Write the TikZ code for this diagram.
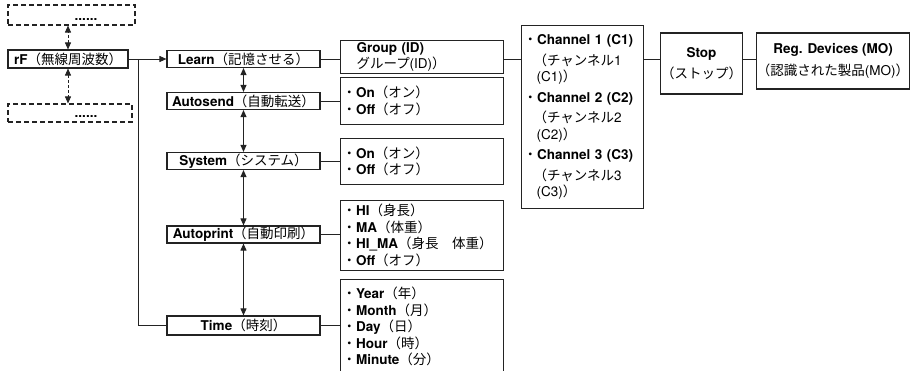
\documentclass[tikz,border=0pt]{standalone}
\usepackage{fontspec}
\setmainfont{TeX Gyre Heros}
\newfontfamily\jpfont[Scale=1.0]{Noto Sans CJK JP}
\newcommand{\JP}[1]{{\jpfont #1}}
\usetikzlibrary{arrows.meta}
\definecolor{lineGray}{RGB}{35,35,35}

\begin{document}
\begin{tikzpicture}[x=1pt,y=-1pt,>={Triangle[length=7pt,width=6pt]},
  every node/.style={font=\fontsize{13.5}{16.5}\selectfont,text=black},
  menubox/.style={draw=lineGray,line width=1.1pt,minimum width=153pt,minimum height=17pt,inner sep=0pt},
  optbox/.style={draw=lineGray,line width=1.1pt,anchor=north west,inner xsep=2pt,inner ysep=0pt,
    text width=159pt,minimum width=163pt,align=left},
  dashbox/.style={draw=lineGray,line width=1.1pt,dash pattern=on 5pt off 3pt,inner sep=0pt},
  link/.style={draw=lineGray,line width=0.9pt}]
  \useasboundingbox (0,0) rectangle (913,370);
  \clip (0,0) rectangle (913,370);

  \node[dashbox,minimum width=127pt,minimum height=20pt,text height=11pt,text depth=0pt] (dtop) at (71.5,15) {\hspace*{29pt}\textbf{......}};
  \node[menubox,minimum width=120pt,minimum height=18pt] (rf) at (68,59) {\textbf{rF}\JP{（無線周波数）}};
  \node[dashbox,minimum width=124pt,minimum height=18pt,text height=9pt,text depth=0pt] (dbot) at (70,113) {\hspace*{32pt}\textbf{......}};

  \node[menubox] (learn) at (243.5,59) {\textbf{Learn}\JP{（記憶させる）}};
  \node[menubox] (autosend) at (243.5,101) {\textbf{Autosend}\JP{（自動転送）}};
  \node[menubox] (system) at (243.5,161) {\textbf{System}\JP{（システム）}};
  \node[menubox] (autoprint) at (243.5,234.5) {\textbf{Autoprint}\JP{（自動印刷）}};
  \node[menubox,minimum height=19pt] (time) at (243.5,325.5) {\textbf{Time}\JP{（時刻）}};

  \node[optbox,minimum height=33pt,inner xsep=16pt,text width=131pt,font=\fontsize{13.5}{12.5}\selectfont] (group) at (340,40)
    {\textbf{Group (ID)}\\\JP{グループ}(ID)\JP{）}};
  \node[optbox,minimum height=47pt] (onoffA) at (340,77)
    {\JP{・}\textbf{On}\JP{（オン）}\\\JP{・}\textbf{Off}\JP{（オフ）}};
  \node[optbox,minimum height=46pt] (onoffB) at (340,138)
    {\JP{・}\textbf{On}\JP{（オン）}\\\JP{・}\textbf{Off}\JP{（オフ）}};
  \node[optbox,minimum height=70pt] (printopt) at (340,200)
    {\JP{・}\textbf{HI}\JP{（身長）}\\\JP{・}\textbf{MA}\JP{（体重）}\\
     \JP{・}\textbf{HI\_MA}\JP{（身長　体重）}\\\JP{・}\textbf{Off}\JP{（オフ）}};
  \node[optbox,minimum height=94pt] (timeopt) at (340,279)
    {\JP{・}\textbf{Year}\JP{（年）}\\\JP{・}\textbf{Month}\JP{（月）}\\\JP{・}\textbf{Day}\JP{（日）}\\
     \JP{・}\textbf{Hour}\JP{（時）}\\\JP{・}\textbf{Minute}\JP{（分）}};

  \node[optbox,text width=118pt,minimum width=122pt,minimum height=183pt] (channel) at (521,25)
    {\JP{・}\textbf{Channel 1 (C1)}\\[4pt]
     \hspace*{10pt}\JP{（チャンネル}1\\
     \hspace*{13pt}(C1)\JP{）}\\[4pt]
     \JP{・}\textbf{Channel 2 (C2)}\\[4pt]
     \hspace*{10pt}\JP{（チャンネル}2\\
     \hspace*{13pt}(C2)\JP{）}\\[4pt]
     \JP{・}\textbf{Channel 3 (C3)}\\[4pt]
     \hspace*{10pt}\JP{（チャンネル}3\\
     \hspace*{13pt}(C3)\JP{）}};
  \node[menubox,minimum width=82pt,minimum height=61pt,align=center] (stop) at (701.5,63.5)
    {\textbf{Stop}\\[5pt]\JP{（ストップ）}};
  \node[menubox,minimum width=153pt,minimum height=56pt,align=center] (reg) at (833,61)
    {\textbf{Reg. Devices (MO)}\\[6pt]\JP{（認識された製品}(MO)\JP{）}};

  \coordinate (split) at (138,59);
  \coordinate (lvl) at (0,59);
  \draw[link,<->,dash pattern=on 3pt off 2pt] (rf.north) -- (rf.north |- dtop.south);
  \draw[link,<->,dash pattern=on 3pt off 2pt] (rf.south) -- (rf.south |- dbot.north);
  \draw[link,->] (rf.east) -- (learn.west);
  \draw[link] (split) |- (time.west);

  \draw[link,<->] (learn.south) -- (autosend.north);
  \draw[link,<->] (autosend.south) -- (system.north);
  \draw[link,<->] (system.south) -- (autoprint.north);
  \draw[link,<->] (autoprint.south) -- (time.north);

  \draw[link] (learn.east) -- (group.west |- learn.east);
  \draw[link] (autosend.east) -- (onoffA.west |- autosend.east);
  \draw[link] (system.east) -- (onoffB.west |- system.east);
  \draw[link] (autoprint.east) -- (printopt.west |- autoprint.east);
  \draw[link] (time.east) -- (timeopt.west |- time.east);
  \draw[link] (group.east |- lvl) -- (channel.west |- lvl);
  \draw[link] (channel.east |- lvl) -- (stop.west |- lvl);
  \draw[link] (stop.east |- lvl) -- (reg.west |- lvl);
\end{tikzpicture}
\end{document}
